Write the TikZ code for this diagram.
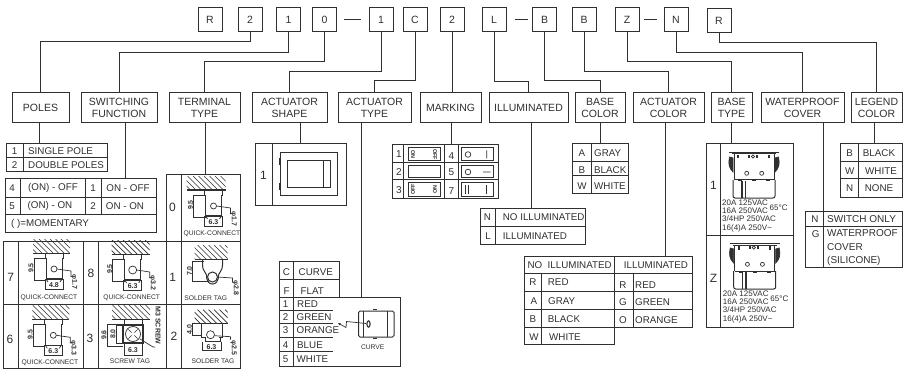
\documentclass[tikz,border=0pt]{standalone}
\usepackage{fontspec}
\setmainfont{Liberation Sans}
\usetikzlibrary{arrows.meta}
\definecolor{ink}{HTML}{303030}
\newcounter{txtn}
\newcommand{\fs}[1]{\fontsize{#1}{#1}\selectfont}
\newcommand{\fslab}{\fontsize{10.5}{12.5}\selectfont}
\tikzset{
  x=1pt,y=-1pt,
  wire/.style={draw=ink,line width=1pt},
  thin wire/.style={draw=ink,line width=0.7pt},
  topbox/.style={draw=ink,line width=1pt,minimum width=24pt,minimum height=24pt,inner sep=0pt,text=ink,font=\fs{10.5}},
  lab/.style={draw=ink,line width=1pt,minimum height=30pt,inner sep=0pt,align=center,text=ink,font=\fslab},
  txt/.style={inner sep=0pt,text=ink,font=\fs{9.8}},
  left txt/.style={txt,anchor=west},
  tiny/.style={inner sep=0pt,text=ink,font=\fs{6.7}},
  dimt/.style={inner sep=0pt,text=ink,font=\fs{7}\bfseries},
  rate/.style={inner sep=0pt,text=ink,font=\fs{8},anchor=west},
}
% text node with an automatic name
\newcommand{\Tx}[4][txt]{\stepcounter{txtn}\node[#1] (n\arabic{txtn}) at (#2,#3) {#4};}
% wall with hatching
\newcommand{\wallhatch}[2]{%
  \begin{scope}
    \clip (#1,-14) rectangle (#2,0);
    \foreach \h in {-48,-42.5,...,30} \draw[thin wire] (\h,-14) -- (\h+14,0);
  \end{scope}
  \draw[wire] (#1,0) -- (#2,0);}
% quick connect terminal: cx, wally, wall left, wall right, width text, phi text, radius, label x, label y
\newcommand{\qcterm}[9]{%
  \begin{scope}[shift={(#1,#2)}]
    \wallhatch{#3}{#4}
    \draw[wire] (-9,0) -- (-9,5) -- (-8,5) -- (-8,26) -- (8,26) -- (8,5) -- (9,5) -- (9,0);
    \draw[draw=ink,line width=1.4pt] (-8,26) -- (8,26);
    \draw[thin wire] (-8,26) -- (-6,29) (8,26) -- (6,29);
    \draw[thin wire] (-9,26) -- (-9,36) -- (9,36) -- (9,26);
    \draw[thin wire] (-8,5) -- (-20,5) -- (-20,27) -- (-8,27);
    \draw[thin wire] (0,16) circle (#7);
    \draw[thin wire] (#7,16) -- (17,18) -- (17,24);
    \Tx[dimt,rotate=90]{-23}{15}{9.5}
    \Tx[dimt]{0}{32}{#5}
    \Tx[dimt,rotate=-90]{20}{29}{φ#6}
  \end{scope}
  \Tx[tiny]{#8}{#9}{QUICK-CONNECT}}
% base with terminals
\newcommand{\basepic}[2]{%
  \begin{scope}[shift={(#1,#2)}]
    \draw[wire,rounded corners=1pt] (729,152.5) -- (779,152.5);
    \draw[wire] (732,154) -- (776,154);
    \draw[wire] (734,154) -- (734,180);
    \draw[wire] (774,154) -- (774,180);
    \draw[wire] (734,180) -- (774,180);
    \draw[wire,rounded corners=2pt] (733,180) -- (733,198) -- (775,198) -- (775,180);
    \draw[thin wire,fill=ink] (729.5,157) .. controls (728,164) and (729,168) .. (733,172) -- (733,158) -- cycle;
    \draw[thin wire,fill=ink] (778.5,157) .. controls (780,164) and (779,168) .. (775,172) -- (775,158) -- cycle;
    \draw[thin wire] (746.7,173.3) circle (2);
    \draw[thin wire] (761.7,173.3) circle (2);
    \fill[ink] (741,181) rectangle (742.5,198);
    \fill[ink] (744.5,181) rectangle (746,198);
    \fill[ink] (737,155) rectangle (739,158.5);
    \fill[ink] (748,155) rectangle (750,158);
    \fill[ink] (756,155) rectangle (758,158);
    \fill[ink] (768,155) rectangle (770,158.5);
    \draw[thin wire] (753,156.5) circle (1.7);
    \fill[ink] (738,179.5) rectangle (742,181.5);
    \fill[ink] (752,179.5) rectangle (756,181.5);
    \fill[ink] (766,179.5) rectangle (770,181.5);
    \Tx[rate]{722}{203}{20A 125VAC}
    \Tx[rate]{722}{211}{16A 250VAC}
    \Tx[rate]{722}{219}{3/4HP 250VAC}
    \Tx[rate]{722}{228}{16(4)A 250V\char"7E}
    \Tx[rate]{769.5}{207.5}{65°C}
  \end{scope}}
\begin{document}
\begin{tikzpicture}
\fill[white] (0,0) rectangle (904,374);
\useasboundingbox (0,0) rectangle (904,374);
% top code row
\node[topbox] (tR) at (210,20) {R};
\node[topbox] (t2) at (250,20) {2};
\node[topbox] (t1) at (288.5,20) {1};
\node[topbox] (t0) at (324.5,20) {0};
\node[topbox] (t1b) at (381,20) {1};
\node[topbox] (tC) at (415,20) {C};
\node[topbox] (t2b) at (452,20) {2};
\node[topbox] (tL) at (494,20) {L};
\node[topbox] (tB) at (544.5,20) {B};
\node[topbox] (tBb) at (584,20) {B};
\node[topbox] (tZ) at (627,20) {Z};
\node[topbox] (tN) at (676,20) {N};
\node[topbox] (tRb) at (719,21) {R};
\coordinate (da1) at (344,19.5); \coordinate (da2) at (361,19.5);
\coordinate (db1) at (515,19.5); \coordinate (db2) at (528,19.5);
\coordinate (dc1) at (644,19.5); \coordinate (dc2) at (657,19.5);
\draw[wire] (da1) -- (da2); \draw[wire] (db1) -- (db2); \draw[wire] (dc1) -- (dc2);
% category labels
\node[lab,minimum width=57pt] (lPoles) at (40.5,108) {POLES};
\node[lab,minimum width=76pt] (lSw) at (119,108) {SWITCHING\\FUNCTION};
\node[lab,minimum width=71pt] (lTerm) at (204.5,108) {TERMINAL\\TYPE};
\node[lab,minimum width=75pt] (lShape) at (289.5,108) {ACTUATOR\\SHAPE};
\node[lab,minimum width=73pt] (lAType) at (374.5,108) {ACTUATOR\\TYPE};
\node[lab,minimum width=61pt] (lMark) at (450.5,108) {MARKING};
\node[lab,minimum width=79pt] (lIll) at (528.5,108) {ILLUMINATED};
\node[lab,minimum width=50pt] (lBC) at (600,108) {BASE\\COLOR};
\node[lab,minimum width=71pt] (lAC) at (668.5,108) {ACTUATOR\\COLOR};
\node[lab,minimum width=41pt] (lBT) at (731.5,108) {BASE\\TYPE};
\node[lab,minimum width=83pt] (lWP) at (802.5,108) {WATERPROOF\\COVER};
\node[lab,minimum width=51pt] (lLC) at (876.5,108) {LEGEND\\COLOR};
% connectors from the code to the labels
\draw[wire] (t2.south) -- ++(0,9) -| (lPoles.north);
\draw[wire] (t1.south) -- ++(0,20) -| (lSw.north);
\draw[wire] (t0.south) -- ++(0,29.5) -| (lTerm.north);
\draw[wire] (t1b.south) -- ++(0,39.5) -| (lShape.north);
\draw[wire] (tC.south) -- ++(0,48.5) -| (lAType.north);
\draw[wire] (t2b.south) -- (t2b.south |- lMark.north);
\draw[wire] (tL.south) -- ++(0,49.5) -| (lIll.north);
\draw[wire] (tB.south) -- ++(0,48) -| (lBC.north);
\draw[wire] (tBb.south) -- ++(0,39.5) -| (lAC.north);
\draw[wire] (tZ.south) -- ++(0,29.5) -| (lBT.north);
\draw[wire] (tN.south) -- ++(0,20) -| (lWP.north);
\draw[wire] (tRb.south) -- ++(0,9.5) -| (lLC.north);
% drops to the tables
\coordinate (dPoles) at (39,144); \draw[wire] (lPoles.south -| dPoles) -- (dPoles);
\coordinate (dSw) at (125.7,179); \draw[wire] (lSw.south -| dSw) -- (dSw);
\coordinate (dTerm) at (205,175); \draw[wire] (lTerm.south -| dTerm) -- (dTerm);
\coordinate (dShape) at (300,144); \draw[wire] (lShape.south -| dShape) -- (dShape);
\coordinate (dAType) at (361,297); \draw[wire] (lAType.south -| dAType) -- (dAType);
\coordinate (dMark) at (451,145); \draw[wire] (lMark.south -| dMark) -- (dMark);
\coordinate (dIll) at (531,208.7); \draw[wire] (lIll.south -| dIll) -- (dIll);
\coordinate (dBC) at (600,144); \draw[wire] (lBC.south -| dBC) -- (dBC);
\coordinate (dAC) at (665,256); \draw[wire] (lAC.south -| dAC) -- (dAC);
\coordinate (dBT) at (731,144); \draw[wire] (lBT.south -| dBT) -- (dBT);
\coordinate (dWP) at (823.7,211); \draw[wire] (lWP.south -| dWP) -- (dWP);
\coordinate (dLC) at (874,144); \draw[wire] (lLC.south -| dLC) -- (dLC);
% POLES table
\draw[wire] (6,144) rectangle (107,172) (6,158) -- (107,158) (23.5,144) -- (23.5,172);
\Tx{14.5}{151}{1} \Tx[left txt]{28}{151}{SINGLE POLE}
\Tx{14.5}{165}{2} \Tx[left txt]{28}{165}{DOUBLE POLES}
% SWITCHING table
\draw[wire] (5,179) rectangle (156,232) (5,197) -- (156,197) (5,214) -- (156,214);
\draw[wire] (20,179) -- (20,214) (85,179) -- (85,214) (101,179) -- (101,214);
\Tx{12}{188}{4} \Tx{53}{188}{(ON) - OFF} \Tx{93}{188}{1} \Tx{128}{188}{ON - OFF}
\Tx{12}{206}{5} \Tx{50}{206}{(ON) - ON} \Tx{93}{206}{2} \Tx{125}{206}{ON - ON}
\Tx[left txt]{11}{224}{( )=MOMENTARY}
% TERMINAL tables
\draw[wire] (166,175) rectangle (240.5,368) (181,175) -- (181,368) (3.5,241) -- (240.5,241) (3.5,304) -- (240.5,304);
\draw[wire] (3.5,241) -- (3.5,368) -- (166,368) (18,241) -- (18,368) (83,241) -- (83,368) (98,241) -- (98,368);
\Tx[txt,font=\fs{12}]{172.5}{207}{0} \Tx[txt,font=\fs{12}]{172.7}{277.7}{1} \Tx[txt,font=\fs{12}]{174}{336}{2}
\Tx[txt,font=\fs{12}]{10.7}{277.7}{7} \Tx[txt,font=\fs{12}]{91}{273}{8} \Tx[txt,font=\fs{12}]{10}{339}{6} \Tx[txt,font=\fs{12}]{90}{338}{3}
\qcterm{213.5}{190}{-27}{12}{6.3}{1.7}{3}{212}{234}
\qcterm{54}{253}{-21}{16}{4.8}{1.7}{3}{49}{298}
\qcterm{132.7}{254}{-21}{17}{6.3}{3.2}{4}{131.7}{298}
\qcterm{53.3}{319.3}{-21}{16}{6.3}{3.3}{3}{50}{362.5}
% screw tag
\begin{scope}[shift={(133,319)}]
  \wallhatch{-21}{17}
  \draw[wire] (-9,0) -- (-9,5) -- (-8,5) -- (8,5) -- (9,5) -- (9,0);
  \draw[draw=ink,line width=1.2pt] (-10,6) rectangle (10,24);
  \draw[thin wire] (0,15) circle (7.5);
  \foreach \a in {45,135,225,315} \draw[thin wire] (\a:2) ++(0,15) -- ++(\a:4.5);
  \draw[thin wire] (-10,5) -- (-26,5) -- (-26,27) -- (-10,27);
  \draw[thin wire] (-10,6) -- (-17,6) -- (-17,24) -- (-10,24);
  \draw[thin wire] (-9,24) -- (-9,36) -- (9,36) -- (9,24);
  \draw[thin wire] (7,20) -- (20,28) -- (22,28);
  \Tx[dimt,rotate=90]{-29}{16}{9.6}
  \Tx[dimt,rotate=90]{-20}{15}{8.0}
  \Tx[dimt]{0}{31.5}{6.3}
  \Tx[dimt,rotate=-90]{25}{6.5}{M3 SCREW}
\end{scope}
\Tx[tiny]{130}{361}{SCREW TAG}
% solder tags
\begin{scope}[shift={(212.5,259)}]
  \wallhatch{-18}{15}
  \draw[wire] (-10,0) -- (-10,6) .. controls (-10,12) and (-7,12) .. (-6,16) (10,0) -- (10,6) .. controls (10,12) and (7,12) .. (6,16);
  \draw[wire] (0,18) circle (5);
  \draw[wire] (-6,16) .. controls (-6,23) and (-3,25) .. (0,25) .. controls (3,25) and (6,23) .. (6,16);
  \draw[thin wire] (-9,2) -- (-20,2) -- (-20,22) -- (-4,22);
  \draw[thin wire] (5,18) -- (20,19) -- (20,23);
  \Tx[dimt,rotate=90]{-23}{12}{7.0}
  \Tx[dimt,rotate=-90]{23}{29}{φ2.8}
\end{scope}
\Tx[tiny]{205.7}{298}{SOLDER TAG}
\begin{scope}[shift={(212.5,323.7)}]
  \wallhatch{-18}{15}
  \draw[wire] (-11,0) -- (-11,14) -- (-7,14);
  \draw[wire] (10,0) -- (10,14) -- (6,14);
  \draw[wire] (-7,14) -- (-7,18) -- (8,18) -- (8,14);
  \draw[thin wire] (-2,11) circle (4);
  \draw[thin wire] (-11,0) -- (-20,0) -- (-20,12) -- (-11,12);
  \draw[thin wire] (-10,18) -- (-10,27) -- (9,27) -- (9,18);
  \draw[thin wire] (2,12) -- (18,13) -- (18,16);
  \Tx[dimt,rotate=90]{-23}{6}{4.0}
  \Tx[dimt]{-1}{23.5}{6.3}
  \Tx[dimt,rotate=-90]{21}{24}{φ2.5}
\end{scope}
\Tx[tiny]{213}{361}{SOLDER TAG}
% ACTUATOR SHAPE table
\draw[wire] (255,144) rectangle (346,205) (272,144) -- (272,205);
\Tx[txt,font=\fs{12}]{263.5}{175}{1}
\draw[wire] (280,153) rectangle (337,195);
\draw[wire] (287,161) rectangle (330,188) (323,161) -- (323,188);
\draw[wire] (279.5,158) -- (279.5,165) (279.5,183) -- (279.5,190) (337.5,158) -- (337.5,165) (337.5,183) -- (337.5,190);
% ACTUATOR TYPE table
\draw[wire] (279,261) rectangle (339,297) (279,279) -- (339,279) (293,261) -- (293,366);
\draw[wire] (279,297) rectangle (400,366);
\draw[thin wire] (279,310) -- (333,310) (279,323) -- (333,323) (279,337) -- (333,337) (279,351) -- (333,351);
\Tx{286.5}{272}{C} \Tx[left txt]{298.5}{272}{CURVE}
\Tx{286.5}{291}{F} \Tx[left txt]{300.5}{291}{FLAT}
\Tx{285.5}{304}{1} \Tx[left txt]{297}{304}{RED}
\Tx{285.5}{317}{2} \Tx[left txt]{296.5}{317}{GREEN}
\Tx{285.5}{330}{3} \Tx[left txt]{296.5}{330}{ORANGE}
\Tx{285.5}{345}{4} \Tx[left txt]{297}{345}{BLUE}
\Tx{285.5}{359}{5} \Tx[left txt]{296.5}{359}{WHITE}
\draw[wire,rounded corners=1.5pt] (358.5,311) rectangle (394,337);
\draw[thin wire] (363,311) -- (363,337) (387,311) -- (387,337);
\draw[wire] (373,309.5) -- (377,309.5) (373,338.5) -- (377,338.5);
\draw[draw=ink,line width=1.1pt] (368.5,324) ellipse (1.6 and 3.2);
\draw[thin wire,-{Stealth[length=3pt,width=2.5pt]}] (366,323.5) -- (346.5,321.5) -- (346,327.5) -- (338,323);
\Tx[tiny]{372.7}{347}{CURVE}
% MARKING table
\draw[wire] (392,145) rectangle (498,198) (392,163) -- (498,163) (392,180) -- (498,180);
\draw[wire] (403,145) -- (403,198) (444,145) -- (444,198) (458,145) -- (458,198);
\Tx[txt,font=\fs{10}]{399}{154}{1} \Tx[txt,font=\fs{10}]{399}{172.5}{2} \Tx[txt,font=\fs{10}]{399}{190}{3}
\Tx[txt,font=\fs{10}]{451.5}{156}{4} \Tx[txt,font=\fs{10}]{451.5}{172.5}{5} \Tx[txt,font=\fs{10}]{451.5}{191}{7}
\draw[wire] (408,148) rectangle (440,161);
\draw[wire] (408,166) rectangle (440,178);
\draw[wire] (408,183) rectangle (440,196);
\draw[wire] (461,148) rectangle (493,161);
\draw[wire] (461,166) rectangle (493,178);
\draw[wire] (461,183) rectangle (493,196);
\Tx[dimt,rotate=-90,font=\fs{5.5}\bfseries]{413}{154.5}{ON}
\Tx[dimt,rotate=-90,font=\fs{5.5}\bfseries]{435}{154.5}{OFF}
\Tx[dimt,rotate=90,font=\fs{5.5}\bfseries]{413}{189.5}{OFF}
\Tx[dimt,rotate=90,font=\fs{5.5}\bfseries]{435}{189.5}{ON}
\draw[thin wire] (468,154.5) circle (2.8) (486.7,150.5) -- (486.7,158.5);
\draw[thin wire] (468,172) circle (2.8) (483,172) -- (490.5,172);
\draw[thin wire] (465,185.5) -- (465,193.5) (468.5,185.5) -- (468.5,193.5) (486.7,185.5) -- (486.7,193.5);
% ILLUMINATED table
\draw[wire] (480,208.7) rectangle (585,244) (480,226.7) -- (585,226.7) (495,208.7) -- (495,244);
\Tx{487.5}{217.5}{N} \Tx[left txt]{502.7}{217.5}{NO ILLUMINATED}
\Tx{488}{236.5}{L} \Tx[left txt]{502.7}{236.5}{ILLUMINATED}
% BASE COLOR table
\draw[wire] (572,144) rectangle (628,193) (572,162) -- (628,162) (572,176) -- (628,176) (591,144) -- (591,193);
\Tx{582}{153.5}{A} \Tx[left txt]{594}{153.5}{GRAY}
\Tx{582}{170}{B} \Tx[left txt]{594}{170}{BLACK}
\Tx{582}{186}{W} \Tx[left txt]{594}{186}{WHITE}
% ACTUATOR COLOR table
\draw[wire] (524,256) rectangle (614.7,344) (614.7,256) -- (692,256) -- (692,327) -- (614.7,327);
\draw[wire] (524,273) -- (692,273) (524,291) -- (692,291) (524,309) -- (692,309) (524,327) -- (614.7,327);
\draw[wire] (541.7,273) -- (541.7,344) (633,273) -- (633,327);
\Tx[left txt]{527.3}{265}{NO\ \ ILLUMINATED}
\Tx{656}{265}{ILLUMINATED}
\Tx{533}{282.5}{R} \Tx[left txt]{547.7}{282.5}{RED}
\Tx{534}{301}{A} \Tx[left txt]{548}{301}{GRAY}
\Tx{533}{319}{B} \Tx[left txt]{547.7}{319}{BLACK}
\Tx{534}{337.5}{W} \Tx[left txt]{549}{337.5}{WHITE}
\Tx{623}{284.7}{R} \Tx[left txt]{635}{284.7}{RED}
\Tx{623}{302}{G} \Tx[left txt]{635}{302}{GREEN}
\Tx{623}{320}{O} \Tx[left txt]{635}{320}{ORANGE}
% BASE TYPE table
\draw[wire] (706,144) rectangle (793,327) (706,235) -- (793,235) (720.5,144) -- (720.5,327);
\Tx[txt,font=\fs{12}]{713.5}{185}{1} \Tx[txt,font=\fs{12}]{713.5}{278.5}{Z}
\basepic{0}{0}
\basepic{0.7}{91}
% LEGEND table
\draw[wire] (840,144) rectangle (902,197) (840,162) -- (902,162) (840,179) -- (902,179) (858,144) -- (858,197);
\Tx{849.7}{153.3}{B} \Tx{879}{153.3}{BLACK}
\Tx{849.7}{171}{W} \Tx{881}{171}{WHITE}
\Tx{849.7}{188.5}{N} \Tx{879}{188.5}{NONE}
% WATERPROOF table
\draw[wire] (805,211) rectangle (902,267) (805,226) -- (902,226) (823.5,211) -- (823.5,267);
\Tx{815}{218.7}{N} \Tx[left txt,font=\fs{10}]{827}{218.7}{SWITCH ONLY}
\Tx{815.7}{234}{G} \Tx[left txt,font=\fs{10}]{827}{233}{WATERPROOF}
\Tx[left txt,font=\fs{10}]{827}{247}{COVER} \Tx[left txt,font=\fs{10}]{827}{261}{(SILICONE)}
\end{tikzpicture}
\end{document}
